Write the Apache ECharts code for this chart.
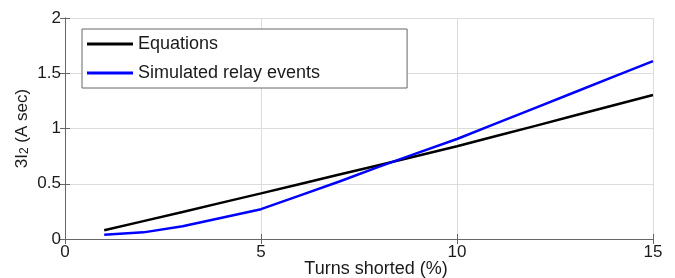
<!DOCTYPE html>
<html>
<head>
<meta charset="utf-8">
<script src="https://cdn.jsdelivr.net/npm/echarts@6/dist/echarts.min.js"></script>
<style>
  html, body { margin: 0; padding: 0; background: #fff; }
  #chart { width: 675px; height: 278px; }
</style>
</head>
<body>
<div id="chart"></div>
<script>
// turns shorted (%)
var turns = [1, 2, 3, 4, 5, 6, 7, 8, 9, 10, 11, 12, 13, 14, 15];
// 3I2 from equations
var equations = [0.079, 0.162, 0.245, 0.329, 0.413, 0.498, 0.583, 0.668, 0.753, 0.84, 0.932, 1.024, 1.117, 1.21, 1.303];
// 3I2 from simulated relay events
var simulated = [0.039, 0.06, 0.115, 0.193, 0.27, 0.395, 0.52, 0.653, 0.78, 0.905, 1.046, 1.187, 1.328, 1.469, 1.61];
var xTicks = [0, 5, 10, 15];
var yTicks = [0, 0.5, 1, 1.5, 2];

function pairs(xs, ys) {
    var out = [];
    for (var i = 0; i < xs.length; i++) out.push([xs[i], ys[i]]);
    return out;
}

var font = 'Liberation Sans, Arial, sans-serif';
var frame = '#666';
var txt = '#1a1a1a';

var chart = echarts.init(document.getElementById('chart'));
chart.setOption({
    animation: false,
    textStyle: { fontFamily: font },
    grid: { left: 65, right: 22, top: 18, bottom: 39, outerBoundsMode: 'none' },
    legend: {
        orient: 'vertical',
        left: 82, top: 29,
        padding: [5, 87, 5, 5],
        itemGap: 9,
        itemWidth: 46, itemHeight: 3,
        icon: 'rect',
        borderColor: frame, borderWidth: 1,
        backgroundColor: '#fff',
        textStyle: { fontSize: 18, color: txt, lineHeight: 20, fontFamily: font },
        data: ['Equations', 'Simulated relay events']
    },
    xAxis: [{
        type: 'value', min: xTicks[0], max: xTicks[xTicks.length - 1], interval: 5,
        name: 'Turns shorted (%)', nameLocation: 'middle', nameGap: 21, nameMoveOverlap: false,
        nameTextStyle: { fontSize: 18, color: txt, fontFamily: font, padding: [0, 0, 0, 34] },
        axisLine: { lineStyle: { color: frame } },
        axisTick: { inside: true, length: 5, lineStyle: { color: frame } },
        axisLabel: { fontSize: 17, color: txt, margin: 5 },
        splitLine: { show: true, lineStyle: { color: '#dcdcdc' } }
    }, {
        type: 'value', position: 'top', min: 0, max: 15, interval: 5,
        axisLine: { show: true, lineStyle: { color: frame } },
        axisTick: { inside: true, length: 5, lineStyle: { color: frame } },
        axisLabel: { show: false }, splitLine: { show: false }
    }],
    yAxis: [{
        type: 'value', min: yTicks[0], max: yTicks[yTicks.length - 1], interval: 0.5,
        name: '3I{sub|2} (A sec)', nameLocation: 'middle', nameRotate: 90, nameGap: 34, nameMoveOverlap: false,
        nameTextStyle: {
            fontSize: 17, color: txt, fontFamily: font,
            rich: { sub: { fontSize: 12, verticalAlign: 'bottom', padding: [6, 0, 0, 0], fontFamily: font, color: txt } }
        },
        axisLine: { show: true, lineStyle: { color: frame } },
        axisTick: { inside: true, length: 5, lineStyle: { color: frame } },
        axisLabel: { fontSize: 17, color: txt, margin: 4 },
        splitLine: { show: true, lineStyle: { color: '#dcdcdc' } }
    }, {
        type: 'value', position: 'right', min: 0, max: 2, interval: 0.5,
        axisLine: { show: true, lineStyle: { color: frame } },
        axisTick: { inside: true, length: 5, lineStyle: { color: frame } },
        axisLabel: { show: false }, splitLine: { show: false }
    }],
    series: [{
        name: 'Equations', type: 'line', showSymbol: false,
        data: pairs(turns, equations),
        lineStyle: { color: '#000', width: 2.5 }, itemStyle: { color: '#000' }
    }, {
        name: 'Simulated relay events', type: 'line', showSymbol: false,
        data: pairs(turns, simulated),
        lineStyle: { color: '#0000ff', width: 2.5 }, itemStyle: { color: '#0000ff' }
    }]
});
</script>
</body>
</html>
